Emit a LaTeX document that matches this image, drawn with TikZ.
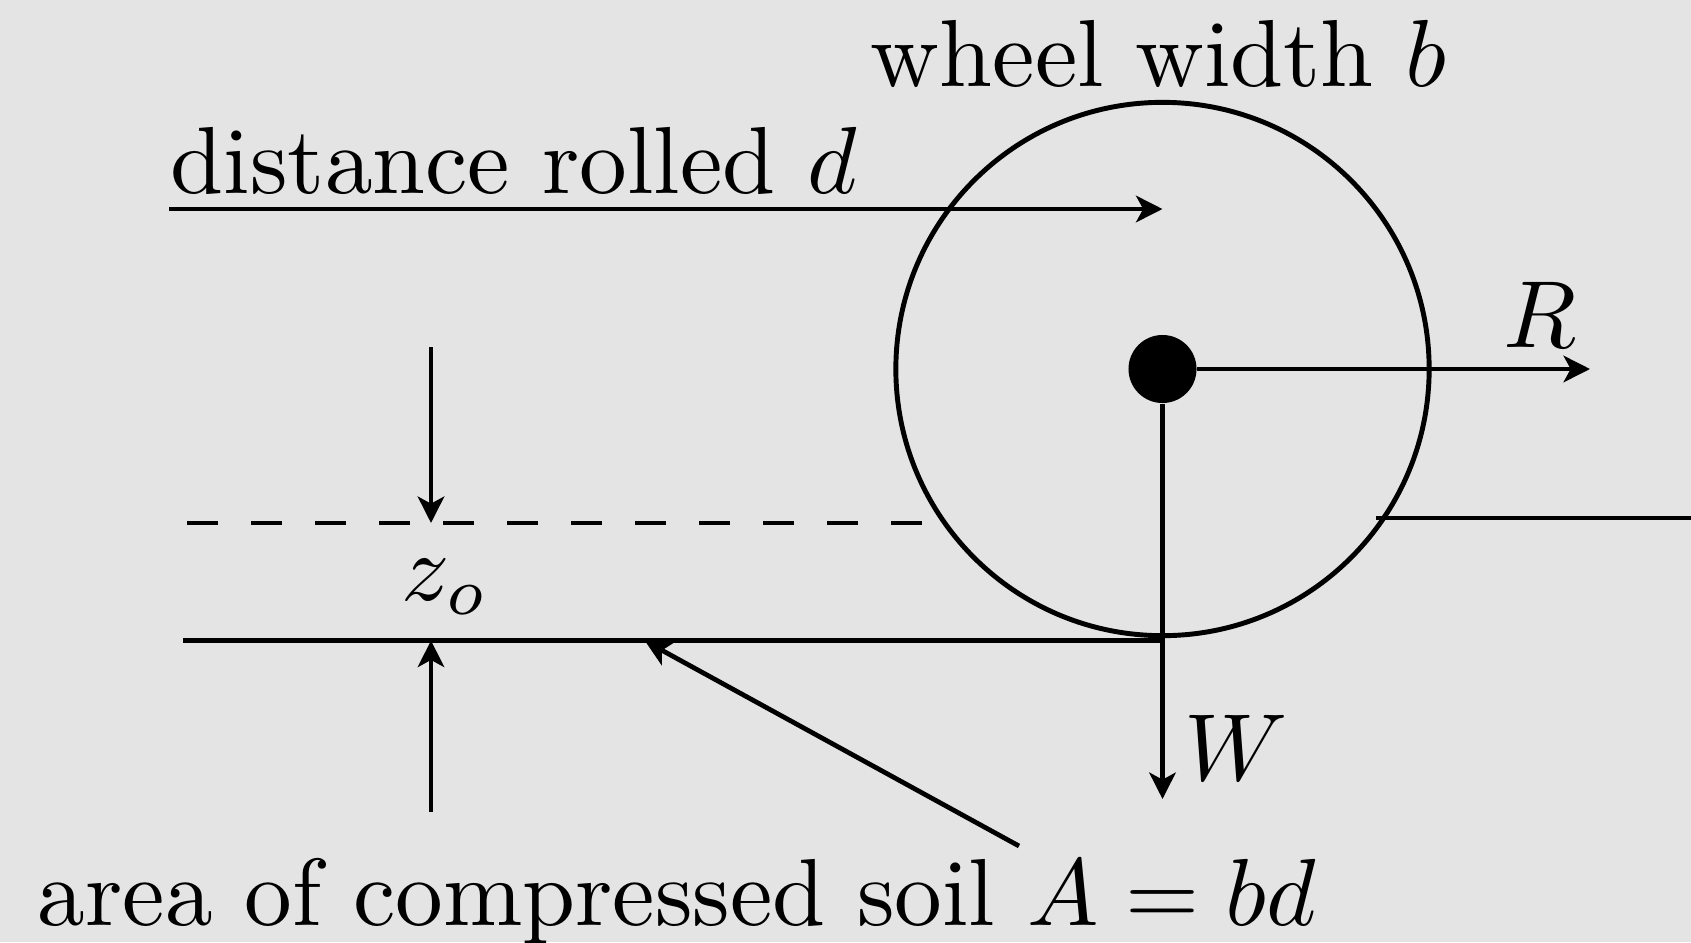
\documentclass[tikz,border=0pt]{standalone}
\usepackage{amsmath}
\usepackage{xcolor}
\usepackage{tikz}
\usetikzlibrary{arrows.meta}
\definecolor{bggray}{HTML}{E4E4E4}

\begin{document}
\begin{tikzpicture}[
    x=0.01cm, y=-0.01cm,
    txt/.style={inner sep=0pt, anchor=base west, scale=2.71},
    arrow/.style={-{Stealth[length=7.5pt, width=7.5pt, inset=2pt]}, line width=1.35pt},
    line/.style={line width=1.35pt},
]

% background
\fill[bggray] (0,0) rectangle (1691,942);
\useasboundingbox (0,0) rectangle (1691,942);

% wheel
\node[draw, circle, line width=1.4pt, minimum size=5.33cm, inner sep=0pt] (wheel) at (1162.5,369) {};
\node[fill, circle, minimum size=0.68cm, inner sep=0pt] (hub) at (wheel.center) {};

% free ends
\coordinate (dstart) at (169,209);
\coordinate (dend) at (dstart -| wheel.center);
\coordinate (rend) at (1590,369);
\coordinate (wend) at (1162.5,799);
\coordinate (gleft) at (183,640.6);
\coordinate (gright) at (1162.5,640.6);
\coordinate (sleft) at (1376,518);
\coordinate (sright) at (1691,518);
\coordinate (dleft) at (187,523);
\coordinate (dright) at (923,523);
\coordinate (ztop) at (431,347);
\coordinate (zbot) at (431,812);
\coordinate (atail) at (1019,846);
\coordinate (atip) at (645,641);

% labels
\node[txt] (wlabel) at (869,86) {wheel width $b$};
\node[txt] (dlabel) at (169,193) {distance rolled $d$};
\node[txt] (rlabel) at (1502,347) {$R$};
\node[txt] (wtlabel) at (1183,780) {$W$};
\node[txt] (zlabel) at (400,600) {$z_o$};
\node[txt] (alabel) at (36,925) {area of compressed soil $A = bd$};

% soil surfaces
\draw[line] (gleft) -- (gright);
\draw[line] (sleft) -- (sright);
\draw[line, dash pattern=on 8.8pt off 9.4pt] (dleft) -- (dright);

% arrows
\draw[arrow] (dstart) -- (dend);
\draw[arrow] (hub) -- (rend);
\draw[arrow] (hub) -- (wend);
\draw[arrow] (ztop) -- (dleft -| ztop);
\draw[arrow] (zbot) -- (gleft -| zbot);
\draw[arrow] (atail) -- (atip);

\end{tikzpicture}
\end{document}
